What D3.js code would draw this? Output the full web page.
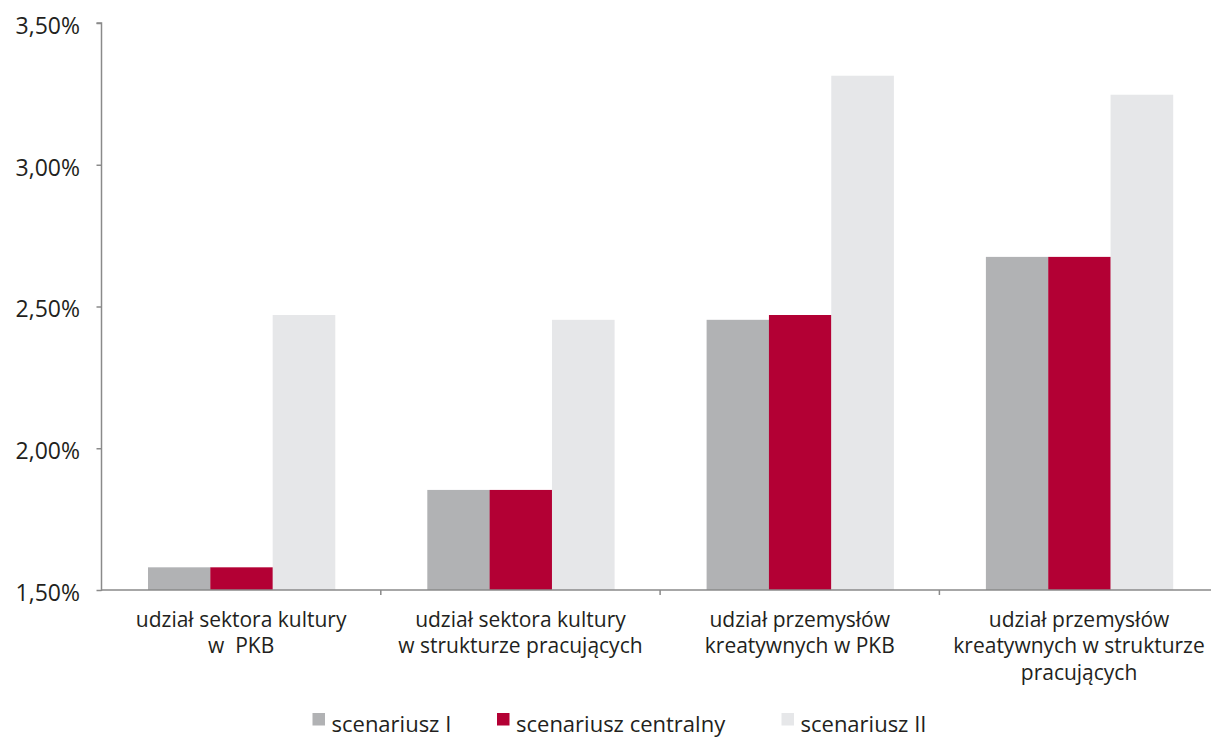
<!DOCTYPE html>
<html>
  <head>
    <meta charset="utf-8" />
    <style>
      body { margin: 0; background: #fff; }
      svg { display: block; }
      svg text { font-family: "Open Sans", sans-serif; }
    </style>
  </head>
  <body>
    <svg id="chart"></svg>

    <script src="https://d3js.org/d3.v7.min.js"></script>
    <script>
      // categories, each an array of label lines
      const categories = [
        ["udział sektora kultury", "w  PKB"],
        ["udział sektora kultury", "w strukturze pracujących"],
        ["udział przemysłów", "kreatywnych w PKB"],
        ["udział przemysłów", "kreatywnych w strukturze", "pracujących"],
      ];
      const seriesNames = ["scenariusz I", "scenariusz centralny", "scenariusz II"];
      const scenariuszI = [1.58, 1.853, 2.453, 2.675];
      const scenariuszCentralny = [1.58, 1.853, 2.47, 2.675];
      const scenariuszII = [2.47, 2.453, 3.314, 3.247];
      const yTicks = [1.5, 2.0, 2.5, 3.0, 3.5];

      const colors = ["#b1b2b4", "#b30034", "#e6e7e9"];
      const width = 1211;
      const height = 738;
      const margin = { top: 23, left: 101.5, bottom: 148 };
      const bandW = 279.3;
      const font = "'Open Sans', sans-serif";

      const allSeries = [scenariuszI, scenariuszCentralny, scenariuszII];
      const rows = categories.map((c, i) => ({
        key: i,
        values: allSeries.map((s, j) => ({ j, v: s[i] })),
      }));

      const svg = d3.select("#chart").attr("width", width).attr("height", height);

      const x0 = d3
        .scaleBand()
        .domain(d3.range(categories.length))
        .range([margin.left, margin.left + bandW * categories.length])
        .padding(0);

      const x1 = d3
        .scaleBand()
        .domain(d3.range(seriesNames.length))
        .range([46.5, 233.5])
        .padding(0);

      const y = d3
        .scaleLinear()
        .domain([1.5, 3.5])
        .range([height - margin.bottom, margin.top]);

      const pl = d3.formatLocale({ decimal: ",", thousands: " ", grouping: [3], currency: ["", " zł"] });
      const fmt = pl.format(".2%");

      // bars
      svg
        .append("g")
        .selectAll("g")
        .data(rows)
        .join("g")
        .attr("transform", (d) => `translate(${x0(d.key)},0)`)
        .selectAll("rect")
        .data((d) => d.values)
        .join("rect")
        .attr("x", (d) => x1(d.j))
        .attr("width", x1.bandwidth() + 0.3)
        .attr("y", (d) => y(d.v))
        .attr("height", (d) => y(1.5) - y(d.v))
        .attr("fill", (d) => colors[d.j]);

      // y axis
      const yAxis = svg
        .append("g")
        .attr("transform", `translate(${margin.left},0)`)
        .call(
          d3.axisLeft(y).tickValues(yTicks).tickSize(5).tickPadding(16.5)
            .tickFormat((d) => fmt(d / 100))
        );
      yAxis.attr("font-family", font);
      yAxis.selectAll("path, line").attr("stroke", "#8a8a8a").attr("stroke-width", 1.5);
      yAxis.select(".domain").attr("d", `M-5,${y(3.5)}H0V${y(1.5) + 1}`);
      yAxis.selectAll("text")
        .attr("fill", "#231f20")
        .attr("font-size", 23)
        .attr("font-family", font)
        .attr("dy", "0.45em");

      // x axis line and separator ticks
      const xg = svg.append("g").attr("stroke", "#8a8a8a").attr("stroke-width", 1.5);
      xg.append("line")
        .attr("x1", margin.left)
        .attr("x2", width)
        .attr("y1", y(1.5))
        .attr("y2", y(1.5));
      xg.selectAll("line.sep")
        .data(d3.range(1, categories.length))
        .join("line")
        .attr("class", "sep")
        .attr("x1", (d) => x0(d))
        .attr("x2", (d) => x0(d))
        .attr("y1", y(1.5))
        .attr("y2", y(1.5) + 5);

      // category labels
      svg
        .append("g")
        .attr("text-anchor", "middle")
        .attr("font-size", 21)
        .attr("font-family", font)
        .attr("fill", "#231f20")
        .selectAll("text")
        .data(categories)
        .join("text")
        .attr("x", (d, i) => x0(i) + bandW / 2)
        .attr("y", 626.5)
        .selectAll("tspan")
        .data((d) => d)
        .join("tspan")
        .attr("x", function () { return this.parentNode.getAttribute("x"); })
        .attr("dy", (d, i) => (i === 0 ? 0 : 26.7))
        .style("white-space", "pre")
        .text((d) => d);

      // legend (nudged up a little so descenders stay inside the frame)
      const legendX = [312.5, 497, 781.5];
      const lg = svg
        .append("g")
        .selectAll("g")
        .data(seriesNames)
        .join("g")
        .attr("transform", (d, i) => `translate(${legendX[i]},713)`);
      lg.append("rect").attr("width", 12.5).attr("height", 12.5).attr("fill", (d, i) => colors[i]);
      lg.append("text")
        .attr("x", 19)
        .attr("y", 19)
        .attr("font-size", 22)
        .attr("font-family", font)
        .attr("fill", "#231f20")
        .text((d) => d);
    </script>
  </body>
</html>
